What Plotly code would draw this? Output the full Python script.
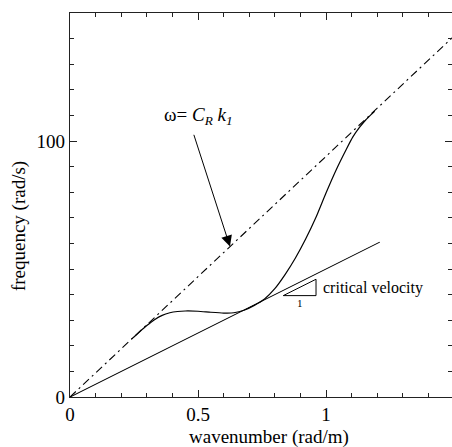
import numpy as np
import plotly.graph_objects as go

# ---- data ----
C_R = 94.0            # Rayleigh line slope (rad/s per rad/m)
C_CRIT = 50.0         # critical velocity slope
k_rayleigh = [0.0, 1.5]
k_critical = [0.0, 1.21]

k_disp = [0.24, 0.27, 0.30, 0.33, 0.36, 0.39, 0.42, 0.45, 0.50, 0.55, 0.60, 0.64,
          0.68, 0.72, 0.76, 0.80, 0.84, 0.88, 0.92, 0.96, 1.00, 1.04, 1.08, 1.105,
          1.13, 1.155, 1.175, 1.19]
w_disp = [22.6, 25.3, 27.9, 30.2, 31.9, 32.9, 33.4, 33.6, 33.5, 33.1, 32.8, 32.9,
          33.9, 35.8, 38.3, 42.3, 47.8, 54.2, 61.6, 70.0, 79.7, 88.8, 96.9, 101.6,
          105.2, 108.2, 110.2, 111.6]

x_ticks = [0, 0.5, 1]
x_ticklabels = ["0", "0.5", "1"]
y_ticks = [0, 100]
y_ticklabels = ["0", "100"]

SERIF = "Liberation Serif, Times New Roman, serif"

fig = go.Figure()

# omega = C_R k line (dash-dot)
fig.add_trace(go.Scatter(
    x=k_rayleigh, y=[C_R * k for k in k_rayleigh], mode="lines",
    line=dict(color="black", width=1.1, dash="8px,4px,2px,4px"),
    showlegend=False, hoverinfo="skip"))

# critical velocity line
fig.add_trace(go.Scatter(
    x=k_critical, y=[C_CRIT * k for k in k_critical], mode="lines",
    line=dict(color="black", width=1.1),
    showlegend=False, hoverinfo="skip"))

# dispersion curve
fig.add_trace(go.Scatter(
    x=k_disp, y=w_disp, mode="lines",
    line=dict(color="black", width=1.2, shape="spline", smoothing=0.6),
    showlegend=False, hoverinfo="skip"))

# slope triangle
tri_k0, tri_dk = 0.833, 0.128
tri_w0 = 39.6
fig.add_trace(go.Scatter(
    x=[tri_k0, tri_k0 + tri_dk, tri_k0 + tri_dk, tri_k0],
    y=[tri_w0, tri_w0, tri_w0 + C_CRIT * tri_dk, tri_w0],
    mode="lines", line=dict(color="black", width=1),
    showlegend=False, hoverinfo="skip"))

annotations = [
    # axis titles
    dict(text="wavenumber (rad/m)", xref="paper", yref="paper", x=0.52, y=-0.105,
         xanchor="center", yanchor="middle", showarrow=False,
         font=dict(family=SERIF, size=19, color="black")),
    dict(text="frequency (rad/s)", xref="paper", yref="paper", x=-0.1335, y=0.445,
         xanchor="center", yanchor="middle", showarrow=False, textangle=-90,
         font=dict(family=SERIF, size=19, color="black")),
    # omega label
    dict(text="ω= <i>C<sub>R</sub> k<sub>1</sub></i>", x=0.5, y=109.6,
         xref="x", yref="y", xanchor="center", yanchor="middle", showarrow=False,
         font=dict(family=SERIF, size=19, color="black")),
    # arrow
    dict(text="", x=0.625, y=C_R * 0.625, ax=0.482, ay=103.0,
         xref="x", yref="y", axref="x", ayref="y", showarrow=True,
         arrowhead=2, arrowsize=2.2, arrowwidth=1, arrowcolor="black", standoff=0),
    # critical velocity label
    dict(text="critical velocity", x=0.98, y=42.7, xref="x", yref="y",
         xanchor="left", yanchor="middle", showarrow=False,
         font=dict(family=SERIF, size=16, color="black")),
    dict(text="1", x=tri_k0 + tri_dk / 2 + 0.003, y=tri_w0 - 3.0, xref="x", yref="y",
         xanchor="center", yanchor="middle", showarrow=False,
         font=dict(family=SERIF, size=11, color="black")),
]

axis_common = dict(
    showgrid=False, zeroline=False, showline=True, linecolor="#222", linewidth=1.3,
    mirror="ticks", ticks="inside", ticklen=7, tickwidth=1, tickcolor="#222",
    tickfont=dict(family=SERIF, size=19, color="black"),
)

fig.update_layout(
    width=452, height=447,
    margin=dict(l=70, r=0, t=13, b=50),
    paper_bgcolor="white", plot_bgcolor="white",
    xaxis=dict(range=[0, 382 / 256], tickvals=x_ticks, ticktext=x_ticklabels,
               minor=dict(dtick=0.1, ticks="inside", ticklen=4, tickcolor="#222"),
               **axis_common),
    yaxis=dict(range=[0, 150], tickvals=y_ticks, ticktext=y_ticklabels,
               minor=dict(dtick=10, ticks="inside", ticklen=4, tickcolor="#222"),
               **axis_common),
    annotations=annotations,
)

fig.write_html("out.html")
